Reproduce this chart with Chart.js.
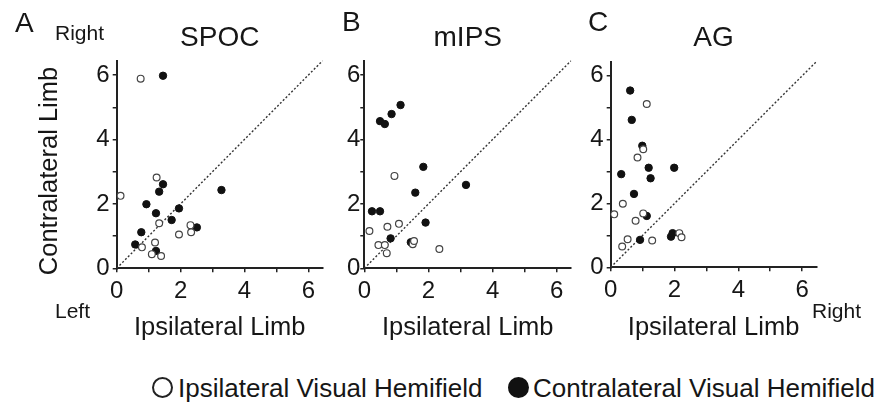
<!DOCTYPE html>
<html>
<head>
<meta charset="utf-8">
<script src="https://cdn.jsdelivr.net/npm/chart.js@4"></script>
<style>
  body { margin: 0; background: #fff; width: 893px; height: 402px; overflow: hidden; position: relative;
         font-family: "Liberation Sans", Arial, sans-serif; color: #161616; }
  canvas { position: absolute; top: 0; }
  .t { position: absolute; line-height: 1; white-space: nowrap; }
  .dot { position: absolute; width: 21px; height: 21px; border-radius: 50%; box-sizing: border-box; }
  .ytitle { position: absolute; left: 49px; top: 171px; font-size: 25.5px; line-height: 1; white-space: nowrap;
            transform: translate(-50%, -50%) rotate(-90deg); }
</style>
</head>
<body>
<canvas id="spoc" width="330" height="345" style="left:0"></canvas>
<canvas id="mips" width="250" height="345" style="left:330px"></canvas>
<canvas id="ag" width="250" height="345" style="left:580px"></canvas>

<div class="t" style="left:15px;top:9px;font-size:28px">A</div>
<div class="t" style="left:342px;top:8px;font-size:28px">B</div>
<div class="t" style="left:588px;top:8px;font-size:28px">C</div>
<div class="t" style="left:55px;top:22px;font-size:21px">Right</div>
<div class="t" style="left:55px;top:300px;font-size:21px">Left</div>
<div class="t" style="left:812px;top:300px;font-size:21px">Right</div>
<div class="ytitle">Contralateral Limb</div>

<div class="dot" style="left:152px;top:377px;border:2px solid #222"></div>
<div class="t" style="left:178px;top:375px;font-size:26px">Ipsilateral Visual Hemifield</div>
<div class="dot" style="left:508px;top:377px;background:#111"></div>
<div class="t" style="left:533px;top:375px;font-size:26px">Contralateral Visual Hemifield</div>

<script>
// axes shared by the three panels
const tickVals = [0, 1, 2, 3, 4, 5, 6];
const tickLabels = ['0', '', '2', '', '4', '', '6'];
const axisMax = 6.45;
const unityLine = [0, 6.45];

// A: SPOC  (x = ipsilateral limb, y = contralateral limb)
const spocIpsiX = [0.75, 0.12, 1.25, 1.33, 2.31, 2.33, 1.95, 1.20, 0.79, 1.10, 1.39];
const spocIpsiY = [5.89, 2.25, 2.82, 1.40, 1.34, 1.12, 1.05, 0.80, 0.65, 0.44, 0.38];
const spocContraX = [1.45, 1.45, 1.33, 0.93, 1.23, 1.95, 1.72, 2.51, 3.28, 0.77, 0.58, 1.23];
const spocContraY = [5.98, 2.61, 2.38, 1.99, 1.71, 1.86, 1.50, 1.27, 2.43, 1.12, 0.74, 0.54];

// B: mIPS
const mipsIpsiX = [0.16, 0.44, 0.64, 0.70, 0.72, 0.94, 1.08, 1.51, 1.55, 2.34];
const mipsIpsiY = [1.16, 0.72, 0.72, 0.47, 1.29, 2.87, 1.38, 0.75, 0.85, 0.60];
const mipsContraX = [0.49, 0.64, 0.85, 1.13, 0.24, 0.49, 0.82, 1.45, 1.59, 1.84, 1.91, 3.17];
const mipsContraY = [4.57, 4.48, 4.79, 5.07, 1.77, 1.77, 0.93, 0.81, 2.35, 3.15, 1.42, 2.59];

// C: AG
const agIpsiX = [1.13, 1.02, 0.84, 0.38, 0.11, 0.78, 1.02, 0.53, 0.36, 1.30, 2.15, 2.22];
const agIpsiY = [5.12, 3.70, 3.44, 1.99, 1.66, 1.46, 1.69, 0.88, 0.65, 0.84, 1.07, 0.94];
const agContraX = [0.61, 0.66, 0.99, 1.19, 1.25, 1.99, 0.33, 0.73, 1.13, 0.92, 1.89, 1.94];
const agContraY = [5.54, 4.62, 3.81, 3.12, 2.79, 3.12, 2.92, 2.30, 1.61, 0.86, 0.96, 1.07];

const FONT = '"Liberation Sans", Arial, sans-serif';
const INK = '#161616';

const toPts = (xs, ys) => xs.map((x, i) => ({ x, y: ys[i] }));

function panel(id, title, ipsiX, ipsiY, contraX, contraY, geo) {
  const axis = (extra) => Object.assign({
    type: 'linear',
    min: 0,
    max: axisMax,
    afterBuildTicks: (s) => { s.ticks = tickVals.map((v) => ({ value: v })); },
    ticks: {
      callback: (v, i) => tickLabels[i],
      font: { family: FONT, size: 24 },
      color: INK,
      autoSkip: false,
      maxRotation: 0,
    },
    grid: { drawOnChartArea: false, tickLength: 4, color: '#222', lineWidth: 1.5 },
    border: { color: '#222', width: 2 },
  }, extra);

  const xAxis = axis({
    afterFit: (s) => { s.height = geo.xHeight; },
    title: { display: true, text: 'Ipsilateral Limb', font: { family: FONT, size: 25.5 }, color: INK, padding: { top: 0, bottom: 2 } },
  });
  xAxis.ticks.padding = 5;

  const yAxis = axis({
    afterFit: (s) => { s.width = geo.yWidth; },
  });
  yAxis.ticks.padding = geo.yTickPad;

  return new Chart(document.getElementById(id), {
    type: 'scatter',
    data: {
      datasets: [
        { label: 'Ipsilateral Visual Hemifield', data: toPts(ipsiX, ipsiY),
          backgroundColor: '#fff', borderColor: '#444', borderWidth: 1.2, pointRadius: 3.4 },
        { label: 'Contralateral Visual Hemifield', data: toPts(contraX, contraY),
          backgroundColor: '#111', borderColor: '#111', borderWidth: 1, pointRadius: 3.7 },
        { label: 'unity', data: toPts(unityLine, unityLine), showLine: true,
          borderColor: '#333', borderWidth: 1.4, borderDash: [2, 2], pointRadius: 0 },
      ],
    },
    options: {
      responsive: false,
      animation: false,
      devicePixelRatio: 1,
      layout: { padding: { left: 0, right: geo.padRight, top: 0, bottom: 0 } },
      plugins: {
        legend: { display: false },
        tooltip: { enabled: false },
        title: {
          display: true, text: title, fullSize: false,
          font: { family: FONT, size: 28, weight: 'normal' }, color: INK,
          padding: { top: 21.7, bottom: geo.titleBottom },
        },
      },
      scales: { x: xAxis, y: yAxis },
    },
  });
}

panel('spoc', 'SPOC', spocIpsiX, spocIpsiY, spocContraX, spocContraY,
  { yWidth: 116.7, padRight: 7.3, titleBottom: 5.3, xHeight: 76.7, yTickPad: 3 });
panel('mips', 'mIPS', mipsIpsiX, mipsIpsiY, mipsContraX, mipsContraY,
  { yWidth: 34.3, padRight: 8.8, titleBottom: 5.3, xHeight: 76.7, yTickPad: 0 });
panel('ag', 'AG', agIpsiX, agIpsiY, agContraX, agContraY,
  { yWidth: 30.7, padRight: 13.5, titleBottom: 6.2, xHeight: 77.7, yTickPad: 3 });
</script>
</body>
</html>
